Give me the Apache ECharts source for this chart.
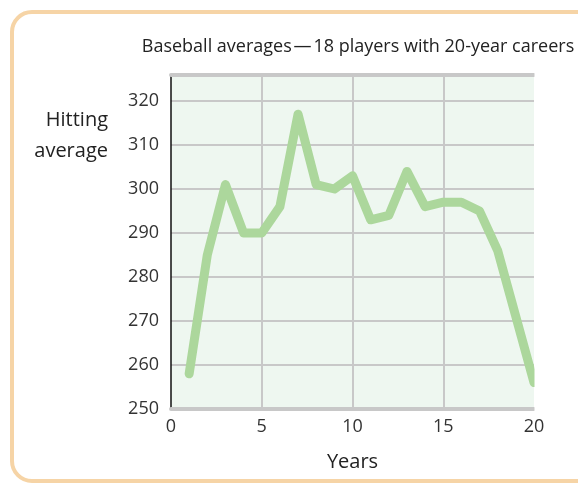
<!DOCTYPE html>
<html>
<head>
<meta charset="utf-8">
<script src="https://cdn.jsdelivr.net/npm/echarts@6/dist/echarts.min.js"></script>
<style>
  html, body { margin: 0; padding: 0; background: #ffffff; }
  #chart { width: 578px; height: 486px; }
</style>
</head>
<body>
<div id="chart"></div>
<script>
// Career year and the average hitting average across the 18 players
const years = [1, 2, 3, 4, 5, 6, 7, 8, 9, 10, 11, 12, 13, 14, 15, 16, 17, 18, 19, 20];
const hittingAverage = [258, 285, 301, 290, 290, 296, 317, 301, 300, 303, 293, 294, 304, 296, 297, 297, 295, 286, 271, 256];
const yTicks = [250, 260, 270, 280, 290, 300, 310, 320];
const xTicks = [0, 5, 10, 15, 20];

const FONT = '"Open Sans", "Noto Sans", sans-serif';
const chart = echarts.init(document.getElementById('chart'), null, { renderer: 'canvas' });

chart.setOption({
  backgroundColor: '#ffffff',
  animation: false,
  title: {
    text: 'Baseball averages\u200a\u2014\u200a18 players with 20-year careers',
    left: 353,
    textAlign: 'center',
    top: 33,
    textStyle: { fontFamily: FONT, fontSize: 18, fontWeight: 'normal', color: '#222' }
  },
  graphic: [
    {
      type: 'rect',
      z: -10,
      shape: { x: 12, y: 12, width: 620, height: 469, r: 20 },
      style: { fill: 'none', stroke: '#f6d4a6', lineWidth: 4 }
    },
    {
      // keeps the last segment ending flat at the right edge of the plot
      type: 'rect',
      z: 100,
      shape: { x: 534.5, y: 60, width: 40, height: 352 },
      style: { fill: '#ffffff' }
    },
    {
      type: 'text',
      x: 108,
      y: 105,
      style: {
        text: 'Hitting\naverage',
        align: 'right',
        fontFamily: FONT,
        fontSize: 20,
        lineHeight: 31,
        fill: '#222'
      }
    }
  ],
  grid: {
    left: 171,
    right: 44,
    top: 74.6,
    bottom: 77,
    show: true,
    borderWidth: 0,
    backgroundColor: '#eef7f0'
  },
  xAxis: [
    {
      type: 'value',
      min: xTicks[0],
      max: xTicks[xTicks.length - 1],
      interval: 5,
      name: 'Years',
      nameLocation: 'middle',
      nameGap: 43,
      nameTextStyle: { fontFamily: FONT, fontSize: 20, color: '#222' },
      axisLine: { show: true, onZero: false, lineStyle: { color: '#c8c8c8', width: 4 } },
      axisTick: { show: false },
      axisLabel: {
        margin: 9,
        fontFamily: FONT,
        fontSize: 18,
        color: '#333',
        formatter: v => (xTicks.indexOf(v) >= 0 ? String(v) : '')
      },
      splitLine: {
        show: true,
        showMinLine: false,
        showMaxLine: false,
        lineStyle: { color: '#c8c8c8', width: 2 }
      }
    },
    {
      type: 'value',
      position: 'top',
      min: 0,
      max: 20,
      axisLine: { show: true, onZero: false, lineStyle: { color: '#c8c8c8', width: 4 } },
      axisTick: { show: false },
      axisLabel: { show: false },
      splitLine: { show: false }
    }
  ],
  yAxis: {
    type: 'value',
    min: yTicks[0],
    max: 326,
    interval: 10,
    axisLine: { show: true, onZero: false, lineStyle: { color: '#111', width: 1.5 } },
    axisTick: { show: false },
    axisLabel: {
      margin: 12,
      fontFamily: FONT,
      fontSize: 18,
      color: '#333',
      formatter: v => (yTicks.indexOf(v) >= 0 ? String(v) : '')
    },
    splitLine: {
      show: true,
      showMinLine: false,
      showMaxLine: false,
      lineStyle: { color: '#c8c8c8', width: 2 }
    }
  },
  series: [
    {
      type: 'line',
      xAxisIndex: 0,
      data: years.map((y, i) => [y, hittingAverage[i]]),
      showSymbol: false,
      symbol: 'none',
      clip: true,
      lineStyle: { color: '#acd79c', width: 9, cap: 'round', join: 'round' },
      z: 5
    }
  ]
});
</script>
</body>
</html>
